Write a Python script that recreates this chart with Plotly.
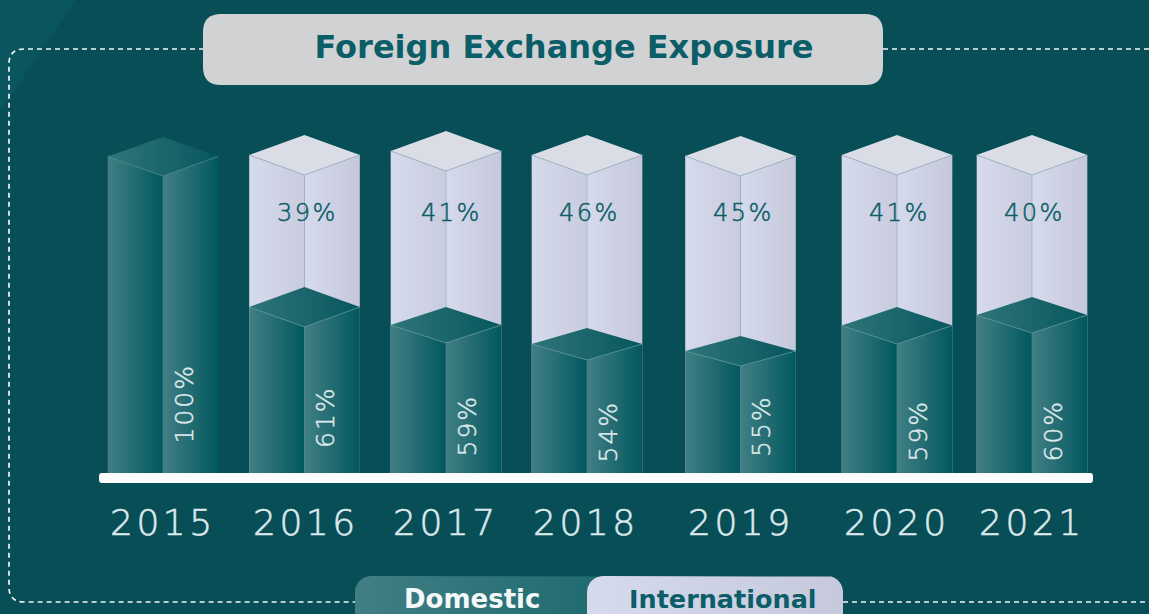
import math
import plotly.graph_objects as go

# ---- data ----
years = ["2015", "2016", "2017", "2018", "2019", "2020", "2021"]
domestic_pct = [100, 61, 59, 54, 55, 59, 60]
international_pct = [None, 39, 41, 46, 45, 41, 40]
# drawn heights of the front edge (the infographic is not to scale)
total_height = [297, 298, 302, 298, 297, 298, 298]
domestic_height = [297, 146, 130, 113, 107, 129, 140]
lid_rise = [19.5, 20, 20, 20, 20, 20, 20]
domestic_lid_rise = [19.5, 20, 18, 16, 15, 18.5, 18]
bar_centers = [163, 304.5, 446, 587, 740.5, 897, 1032]
dom_label_height = [69, 56, 47, 41, 47, 42, 42]
intl_label_shift = [0, 3, 5, 2, 3, 2, 2]
year_label_shift = [0, 1.5, -0.5, -1, 0, -0.5, 0]

W, H = 1149, 614
BASE = 473     # pixel row of the value axis zero
HALF = 55.3

BG = "#074e57"
TEAL_L, TEAL_R = "#427f84", "#01585f"
LID_L, LID_R = "#2f7579", "#06575e"
ICE_L, ICE_R = "#d6daed", "#c5c8da"
LID_ICE = "#dadce6"
EDGE = "#9db5bf"
DARK_TEXT = "#0b5d67"
LIGHT_TEXT = "#dce8ea"
FONT = "DejaVu Sans"


def yv(py):
    return BASE - py


def px(x):
    return x / W


def py(y):
    return 1 - y / H


fig = go.Figure()


def poly(xs, ys, c1, c2=None):
    kw = dict(fillcolor=c1)
    if c2:
        kw = dict(fillgradient=dict(type="horizontal", colorscale=[[0, c1], [1, c2]]))
    fig.add_trace(go.Scatter(x=xs + xs[:1], y=ys + ys[:1], mode="lines", fill="toself",
                             line=dict(width=0), hoverinfo="skip", showlegend=False, **kw))


def edge(xs, ys, color=EDGE, width=0.8, dash=None):
    fig.add_trace(go.Scatter(x=xs, y=ys, mode="lines", hoverinfo="skip", showlegend=False,
                             line=dict(color=color, width=width, dash=dash)))


def rounded_top(x0, x1, y0, y1, r):
    """outline in pixel terms with rounded top corners, converted to axis values"""
    xs, ys = [], []
    for cx, cy, a0 in ((x0 + r, y0 + r, 180), (x1 - r, y0 + r, 270)):
        for i in range(13):
            a = math.radians(a0 + i * 7.5)
            xs.append(cx + r * math.cos(a))
            ys.append(yv(cy + r * math.sin(a)))
    xs += [x1, x0]
    ys += [yv(y1), yv(y1)]
    return xs, ys


# bars
for i, yr in enumerate(years):
    c = bar_centers[i]
    l, r = c - HALF, c + HALF
    t, d = total_height[i], domestic_height[i]
    rt, rd = lid_rise[i], domestic_lid_rise[i]
    has_intl = international_pct[i] is not None
    if has_intl:
        poly([l, c, c, l], [t + rt, t, 0, 0], ICE_L, "#c9ccde")
        poly([c, r, r, c], [t, t + rt, 0, 0], ICE_L, ICE_R)
        poly([l, c, r, c], [t + rt, t, t + rt, t + 2 * rt], LID_ICE)
        edge([l, c, r], [t + rt, t, t + rt])
        edge([c, c], [t, d + 2 * rd])
    poly([l, c, c, l], [d + rd, d, 0, 0], TEAL_L, TEAL_R)
    poly([c, r, r, c], [d, d + rd, 0, 0], TEAL_L, TEAL_R)
    poly([l, c, r, c], [d + rd, d, d + rd, d + 2 * rd], LID_L, LID_R)
    edge([l, c, r], [d + rd, d, d + rd], color="#5d9398", width=0.7)
    edge([c, c], [d, 0], color="#4f8a8f", width=0.6)


def thin(text, spacing, color, stroke):
    return (f'<span style="letter-spacing:{spacing}px;stroke:{color};'
            f'stroke-width:{stroke}px">{text}</span>')


annotations = []
for i, yr in enumerate(years):
    c = bar_centers[i]
    annotations.append(dict(
        x=c + year_label_shift[i], y=yv(522.5), xref="x", yref="y", showarrow=False,
        text=thin(yr, 3.5, LIGHT_TEXT, 0.6),
        font=dict(family=FONT, size=36, color=LIGHT_TEXT, weight=200),
    ))
    annotations.append(dict(
        x=c + 20.5, y=dom_label_height[i], xref="x", yref="y", showarrow=False,
        text=thin(f"{domestic_pct[i]}%", 2, LIGHT_TEXT, 0.5),
        textangle=-90, font=dict(family=FONT, size=25, color=LIGHT_TEXT, weight=200),
    ))
    if international_pct[i] is not None:
        annotations.append(dict(
            x=c + intl_label_shift[i], y=yv(213), xref="x", yref="y", showarrow=False,
            text=thin(f"{international_pct[i]}%", 2.5, DARK_TEXT, 0.5),
            font=dict(family=FONT, size=24, color=DARK_TEXT, weight=200),
        ))

# legend pills
xs, ys = rounded_top(355, 620, 576, 622, 16)
poly(xs, ys, "#417f84", "#1c696f")
xs, ys = rounded_top(587, 843, 576, 622, 16)
poly(xs, ys, "#d6daed", "#c6c9dc")
annotations.append(dict(x=472, y=yv(599), xref="x", yref="y", showarrow=False, text="Domestic",
                        font=dict(family=FONT, size=26, color="#f4f8f8", weight="bold")))
annotations.append(dict(x=722.5, y=yv(599), xref="x", yref="y", showarrow=False, text="International",
                        font=dict(family=FONT, size=25.5, color=DARK_TEXT, weight="bold")))


def rrect_path(x0, y0, x1, y1, r):
    return (f"M{px(x0 + r)},{py(y0)} L{px(x1 - r)},{py(y0)} "
            f"Q{px(x1)},{py(y0)} {px(x1)},{py(y0 + r)} L{px(x1)},{py(y1 - r)} "
            f"Q{px(x1)},{py(y1)} {px(x1 - r)},{py(y1)} L{px(x0 + r)},{py(y1)} "
            f"Q{px(x0)},{py(y1)} {px(x0)},{py(y1 - r)} L{px(x0)},{py(y0 + r)} "
            f"Q{px(x0)},{py(y0)} {px(x0 + r)},{py(y0)} Z")


frame = (f"M{px(204)},{py(49)} L{px(24)},{py(49)} Q{px(9)},{py(49)} {px(9)},{py(64)} "
         f"L{px(9)},{py(587)} Q{px(9)},{py(602)} {px(24)},{py(602)} L{px(356)},{py(602)} "
         f"M{px(843)},{py(602)} L{px(1149)},{py(602)} M{px(883)},{py(49)} L{px(1149)},{py(49)}")
wedge = f"M0,1 L{px(75)},1 L0,{py(112)} Z"

shapes = [
    dict(type="path", xref="paper", yref="paper", path=wedge, layer="below",
         fillcolor="#0a565f", line=dict(width=0)),
    dict(type="path", xref="paper", yref="paper", path=frame, layer="below",
         line=dict(color="#f2f6f6", width=1.7, dash="5px,4px")),
    dict(type="path", xref="paper", yref="paper", path=rrect_path(203, 14, 883, 85, 18), layer="above",
         fillcolor="#d1d2d4", line=dict(width=0)),
    dict(type="path", xref="paper", yref="paper", path=rrect_path(99, 473, 1093, 483, 3), layer="above",
         fillcolor="#fcfefe", line=dict(width=0)),
]

fig.update_layout(
    width=W, height=H, margin=dict(l=0, r=0, t=0, b=0),
    paper_bgcolor=BG, plot_bgcolor="rgba(0,0,0,0)",
    xaxis=dict(range=[0, W], visible=False, fixedrange=True),
    yaxis=dict(range=[yv(H), yv(0)], visible=False, fixedrange=True),
    showlegend=False, shapes=shapes, annotations=annotations,
    title=dict(text="Foreign Exchange Exposure", x=564 / W, y=1 - 47 / H, xanchor="center", yanchor="middle",
               xref="paper", yref="paper",
               font=dict(family=FONT, size=32, color=DARK_TEXT, weight="bold")),
)

fig.write_html("out.html", config={"displayModeBar": False},
               post_script="document.body.style.margin='0';document.documentElement.style.overflow='hidden';")
